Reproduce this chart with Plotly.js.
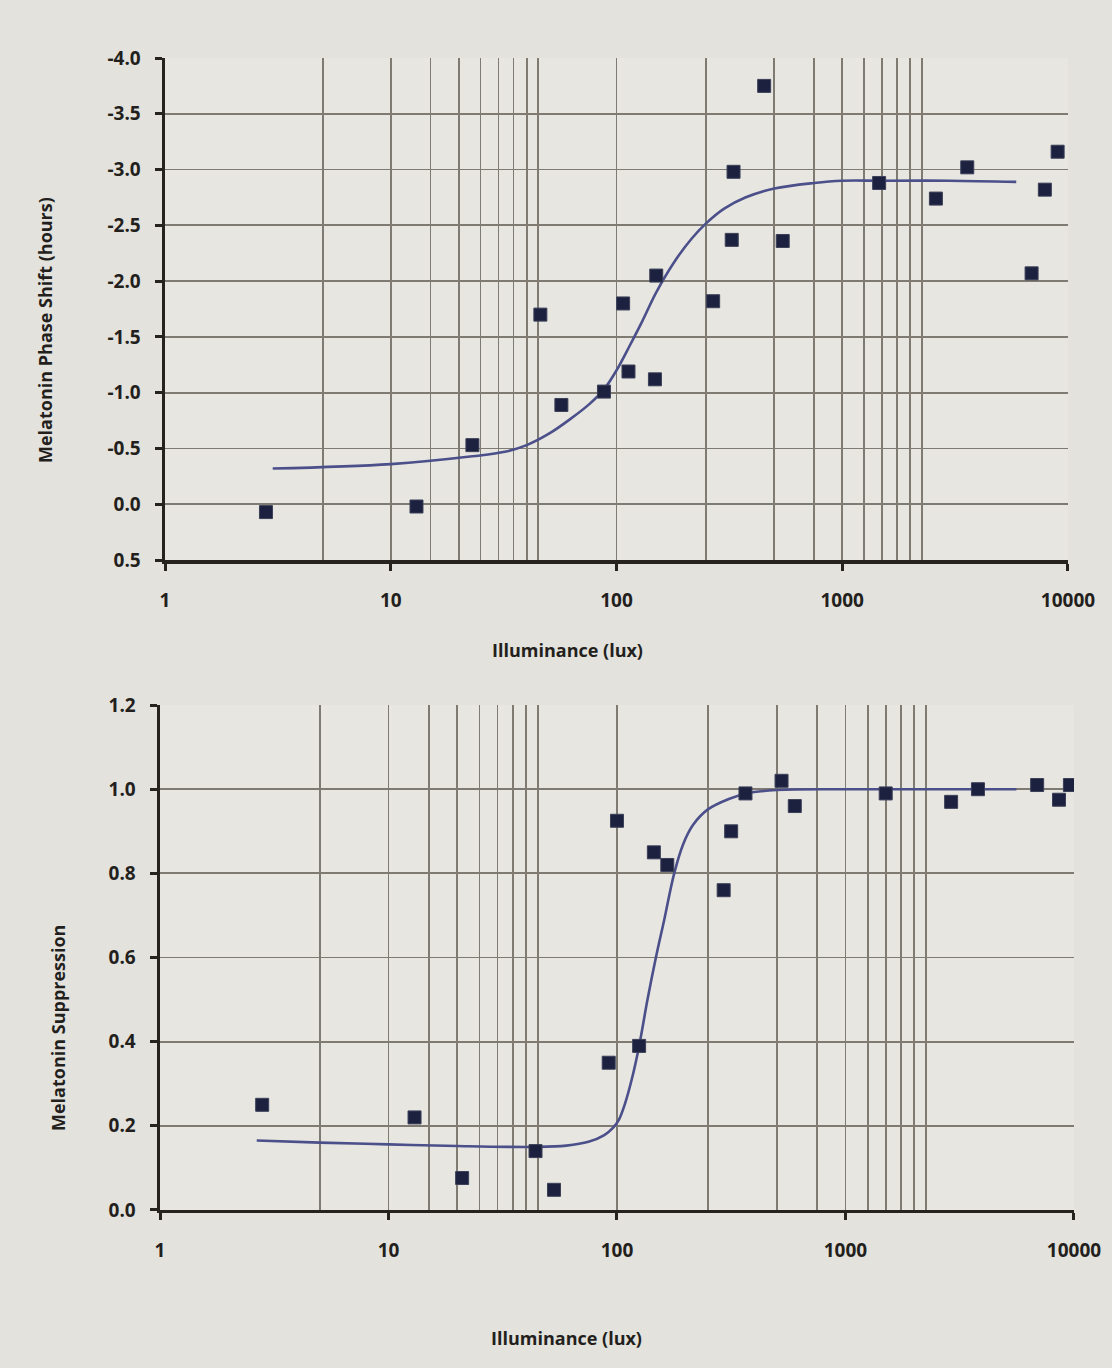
<!DOCTYPE html>
<html>
<head>
<meta charset="utf-8">
<script src="https://cdn.plot.ly/plotly-3.0.1.min.js"></script>
<style>
  html, body { margin: 0; padding: 0; background: #e4e2dd; }
  #chart { width: 1112px; height: 1368px; }
</style>
</head>
<body>
<div id="chart"></div>
<script>
// ---- Data ----
// Top panel: melatonin phase shift (hours) vs illuminance (lux)
const shiftLux   = [2.8, 13, 23, 46, 57, 88, 107, 113, 148, 150, 268, 324, 330, 451, 545, 1457, 2600, 3580, 6900, 7900, 9000];
const shiftHours = [0.07, 0.02, -0.53, -1.70, -0.89, -1.01, -1.80, -1.19, -1.12, -2.05, -1.82, -2.37, -2.98, -3.75, -2.36, -2.88, -2.74, -3.02, -2.07, -2.82, -3.16];
// fitted curve (top)
const shiftFitLux   = [3, 10, 23, 32, 40, 50, 63, 76, 88, 100, 115, 130, 150, 180, 215, 250, 300, 372, 500, 750, 1000, 1500, 3000, 5900];
const shiftFitHours = [-0.32, -0.36, -0.43, -0.47, -0.53, -0.63, -0.77, -0.90, -1.03, -1.20, -1.43, -1.64, -1.90, -2.17, -2.38, -2.52, -2.65, -2.75, -2.83, -2.88, -2.90, -2.90, -2.90, -2.89];

// Bottom panel: melatonin suppression vs illuminance (lux)
const suppLux   = [2.8, 13, 21, 44, 53, 92, 100, 125, 145, 166, 293, 316, 365, 525, 600, 1500, 2900, 3800, 6900, 8600, 9600];
const suppValue = [0.25, 0.22, 0.076, 0.14, 0.048, 0.35, 0.925, 0.39, 0.85, 0.82, 0.76, 0.90, 0.99, 1.02, 0.96, 0.99, 0.97, 1.00, 1.01, 0.975, 1.01];
// fitted curve (bottom)
const suppFitLux   = [2.65, 5, 10, 20, 44, 60, 75, 88, 96, 102, 108, 116, 125, 136, 148, 161, 178, 195, 215, 250, 313, 368, 500, 1000, 5600];
const suppFitValue = [0.165, 0.16, 0.156, 0.152, 0.150, 0.153, 0.162, 0.178, 0.195, 0.215, 0.25, 0.31, 0.39, 0.50, 0.60, 0.69, 0.80, 0.87, 0.915, 0.952, 0.978, 0.99, 0.998, 1.0, 1.0];

// Axis ticks / grid
const decadeTicks = [1, 10, 100, 1000, 10000];
const decadeLabels = ['1', '10', '100', '1000', '10000'];
const extraGridLux = [5, 15, 20, 25, 30, 35, 40, 45, 250, 500, 750, 1250, 1500, 1750, 2000, 2250];
const shiftTicks = [-4.0, -3.5, -3.0, -2.5, -2.0, -1.5, -1.0, -0.5, 0.0, 0.5];
const shiftTickText = ['-4.0', '-3.5', '-3.0', '-2.5', '-2.0', '-1.5', '-1.0', '-0.5', '0.0', '0.5'];
const suppTicks = [0.0, 0.2, 0.4, 0.6, 0.8, 1.0, 1.2];
const suppTickText = ['0.0', '0.2', '0.4', '0.6', '0.8', '1.0', '1.2'];

// ---- Styling ----
const FONT = '"Open Sans", "DejaVu Sans", sans-serif';
const TXT = '#231f1c';
const GRID = '#7f7a72';
const AXIS = '#26231f';
const MARK = '#1d2140';
const CURVE = '#4b4f8a';

function xAxis(domain, anchor) {
  return {
    type: 'log', range: [0, 4], domain: domain, anchor: anchor,
    tickmode: 'array', tickvals: decadeTicks, ticktext: decadeLabels,
    showgrid: true, gridcolor: GRID, gridwidth: 1.8,
    minor: { tickmode: 'array', tickvals: extraGridLux, showgrid: true, gridcolor: GRID, gridwidth: 1.8, ticks: '' },
    showline: true, linecolor: AXIS, linewidth: 3.5,
    ticks: 'outside', ticklen: 7, tickwidth: 3, tickcolor: AXIS,
    ticklabelstandoff: 14,
    tickfont: { family: FONT, size: 19, color: TXT, weight: 'bold' },
    zeroline: false, fixedrange: true
  };
}
function yAxis(domain, anchor, range, ticks, labels) {
  return {
    range: range, domain: domain, anchor: anchor,
    tickmode: 'array', tickvals: ticks, ticktext: labels,
    showgrid: true, gridcolor: GRID, gridwidth: 1.8,
    showline: true, linecolor: AXIS, linewidth: 3.5,
    ticks: 'outside', ticklen: 7, tickwidth: 3, tickcolor: AXIS,
    ticklabelstandoff: 10,
    tickfont: { family: FONT, size: 19, color: TXT, weight: 'bold' },
    zeroline: false, fixedrange: true
  };
}

const markerStyle = { symbol: 'square', size: 13, color: MARK, line: { color: '#3b4058', width: 1 } };

const traces = [
  { x: shiftFitLux, y: shiftFitHours, xaxis: 'x', yaxis: 'y', mode: 'lines',
    line: { color: CURVE, width: 2.6, shape: 'spline', smoothing: 1 }, hoverinfo: 'skip' },
  { x: shiftLux, y: shiftHours, xaxis: 'x', yaxis: 'y', mode: 'markers', marker: markerStyle },
  { x: suppFitLux, y: suppFitValue, xaxis: 'x2', yaxis: 'y2', mode: 'lines',
    line: { color: CURVE, width: 2.6, shape: 'spline', smoothing: 1 }, hoverinfo: 'skip' },
  { x: suppLux, y: suppValue, xaxis: 'x2', yaxis: 'y2', mode: 'markers', marker: markerStyle }
];

const titleFont = { family: FONT, size: 18, color: TXT, weight: 'bold' };

const layout = {
  width: 1112, height: 1368,
  margin: { l: 0, r: 0, t: 0, b: 0 },
  paper_bgcolor: '#e4e2dd', plot_bgcolor: '#e8e6e1',
  showlegend: false,
  xaxis: xAxis([0.1484, 0.9604], 'y'),
  yaxis: yAxis([0.5906, 0.9576], 'x', [0.5, -4.0], shiftTicks, shiftTickText),
  xaxis2: xAxis([0.1439, 0.9658], 'y2'),
  yaxis2: yAxis([0.1155, 0.4846], 'x2', [0, 1.2], suppTicks, suppTickText),
  annotations: [
    { text: 'Illuminance (lux)', xref: 'paper', yref: 'paper', x: 567 / 1112, y: 1 - 650 / 1368,
      showarrow: false, font: titleFont, xanchor: 'center', yanchor: 'middle' },
    { text: 'Illuminance (lux)', xref: 'paper', yref: 'paper', x: 566 / 1112, y: 1 - 1338 / 1368,
      showarrow: false, font: titleFont, xanchor: 'center', yanchor: 'middle' },
    { text: 'Melatonin Phase Shift (hours)', xref: 'paper', yref: 'paper', x: 45 / 1112, y: 1 - 330 / 1368,
      showarrow: false, font: titleFont, textangle: -90, xanchor: 'center', yanchor: 'middle' },
    { text: 'Melatonin Suppression', xref: 'paper', yref: 'paper', x: 58 / 1112, y: 1 - 1028 / 1368,
      showarrow: false, font: titleFont, textangle: -90, xanchor: 'center', yanchor: 'middle' }
  ]
};

Plotly.newPlot('chart', traces, layout, { staticPlot: true, displayModeBar: false });
</script>
</body>
</html>
